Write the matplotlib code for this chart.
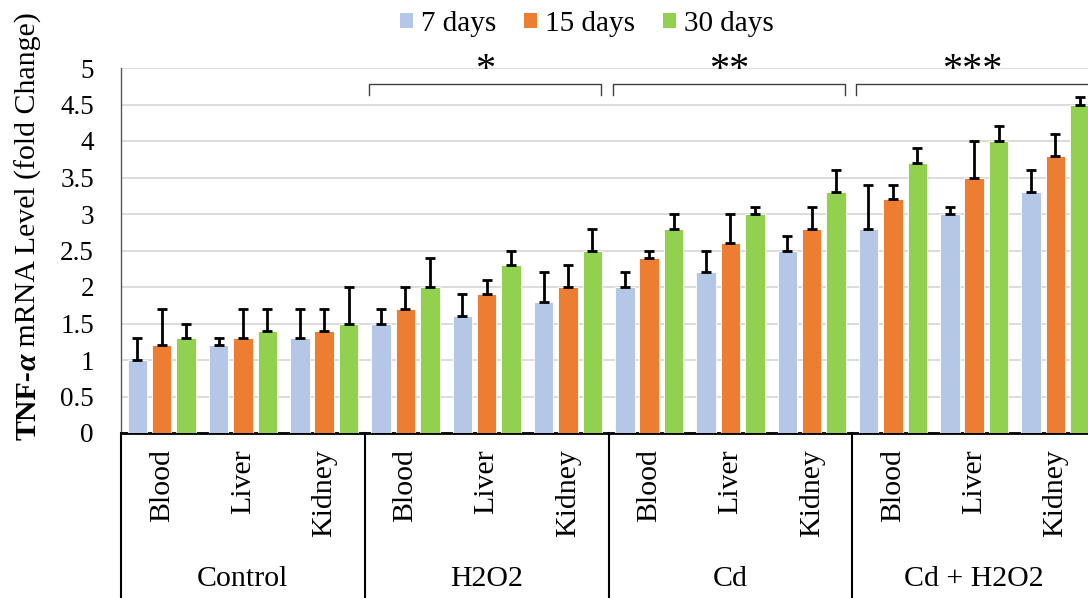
import numpy as np
import matplotlib
matplotlib.use('Agg')
import matplotlib.pyplot as plt
from matplotlib.patches import Patch
from matplotlib.lines import Line2D

plt.rcParams['font.family'] = ['Liberation Serif', 'DejaVu Serif']

groups = ['Control', 'H2O2', 'Cd', 'Cd + H2O2']
tissues = ['Blood', 'Liver', 'Kidney']
series = ['7 days', '15 days', '30 days']
colors = ['#B4C7E7', '#ED7D31', '#92D050']

# values per category (group x tissue), in order
vals_7 = [1.0, 1.2, 1.3, 1.5, 1.6, 1.8, 2.0, 2.2, 2.5, 2.8, 3.0, 3.3]
vals_15 = [1.2, 1.3, 1.4, 1.7, 1.9, 2.0, 2.4, 2.6, 2.8, 3.2, 3.5, 3.8]
vals_30 = [1.3, 1.4, 1.5, 2.0, 2.3, 2.5, 2.8, 3.0, 3.3, 3.7, 4.0, 4.5]
err_7 = [0.3, 0.1, 0.4, 0.2, 0.3, 0.4, 0.2, 0.3, 0.2, 0.6, 0.1, 0.3]
err_15 = [0.5, 0.4, 0.3, 0.3, 0.2, 0.3, 0.1, 0.4, 0.3, 0.2, 0.5, 0.3]
err_30 = [0.2, 0.3, 0.5, 0.4, 0.2, 0.3, 0.2, 0.1, 0.3, 0.2, 0.2, 0.1]
stars = ['', '*', '**', '***']

fig = plt.figure(figsize=(10.88, 5.98), dpi=100)
ax = fig.add_axes([121 / 1088, 165 / 598, 975 / 1088, 365 / 598])

n = len(vals_7)
x = np.arange(n)
step = 0.30
width = 0.24
all_vals = [vals_7, vals_15, vals_30]
all_errs = [err_7, err_15, err_30]
for i in range(3):
    pos = x + (i - 1) * step
    ax.bar(pos, all_vals[i], width=width, color=colors[i], edgecolor='white',
           linewidth=0.6, zorder=3)
    ax.errorbar(pos, all_vals[i], yerr=[np.zeros(n), all_errs[i]], fmt='none',
                ecolor='black', elinewidth=2, capsize=3.3, capthick=2, zorder=4)

ax.set_xlim(-0.5, n - 0.5)
ax.set_ylim(0, 5)
ax.set_yticks(np.arange(0, 5.01, 0.5))
ax.set_yticklabels(['0', '0.5', '1', '1.5', '2', '2.5', '3', '3.5', '4', '4.5', '5'])
ax.tick_params(axis='y', length=0, pad=19.5, labelsize=19.5)
ax.set_xticks([])
ax.grid(axis='y', color='#d9d9d9', linewidth=1.3, zorder=0)
ax.set_axisbelow(True)
for s in ['top', 'right']:
    ax.spines[s].set_visible(False)
ax.spines['left'].set_color('#595959')
ax.spines['left'].set_linewidth(1)
ax.spines['bottom'].set_color('black')
ax.spines['bottom'].set_linewidth(2)

# category axis: tissue labels, group labels, separators
trans = ax.get_xaxis_transform()
for k in range(n):
    ax.text(x[k], -0.045, tissues[k % 3], rotation=90, ha='center', va='top',
            fontsize=21.5, transform=trans, clip_on=False)
for g in range(len(groups)):
    ax.text(g * 3 + 1, -0.40, groups[g], ha='center', va='center',
            fontsize=21.5, transform=trans, clip_on=False)
    xs = g * 3 - 0.5
    ax.add_line(Line2D([xs, xs], [0, -0.46], transform=trans, color='black',
                       linewidth=1.5, clip_on=False))

# significance brackets
for g in range(1, len(groups)):
    x0 = g * 3 - 0.5 + 0.05
    x1 = g * 3 + 2.5 - 0.09
    ax.plot([x0, x0, x1, x1], [4.63, 4.78, 4.78, 4.63], color='#404040',
            linewidth=1, clip_on=False, zorder=5)
    ax.text((x0 + x1) / 2, 4.97, stars[g], ha='center', va='center',
            fontsize=29, clip_on=False)

# legend
handles = [Patch(facecolor=c, edgecolor='none') for c in colors]
fig.legend(handles, series, loc='center', bbox_to_anchor=(0.5395, 0.96), ncol=3,
           frameon=False, fontsize=21, handlelength=0.45, handleheight=0.45,
           handletextpad=0.28, columnspacing=0.95)

# y label with bold TNF-α part
fig.canvas.draw()
renderer = fig.canvas.get_renderer()
pieces = [('TNF-', 'bold', 'normal'), ('α', 'bold', 'italic'),
          (' mRNA Level (fold Change)', 'normal', 'normal')]
ypos = 440
for txt, wt, st in pieces:
    t = fig.text(28 / 1088, 1 - ypos / 598, txt, rotation=90, ha='center',
                 va='bottom', fontsize=21.5, fontweight=wt, fontstyle=st)
    bb = t.get_window_extent(renderer)
    ypos -= bb.height

fig.savefig('out.png', dpi=100)
